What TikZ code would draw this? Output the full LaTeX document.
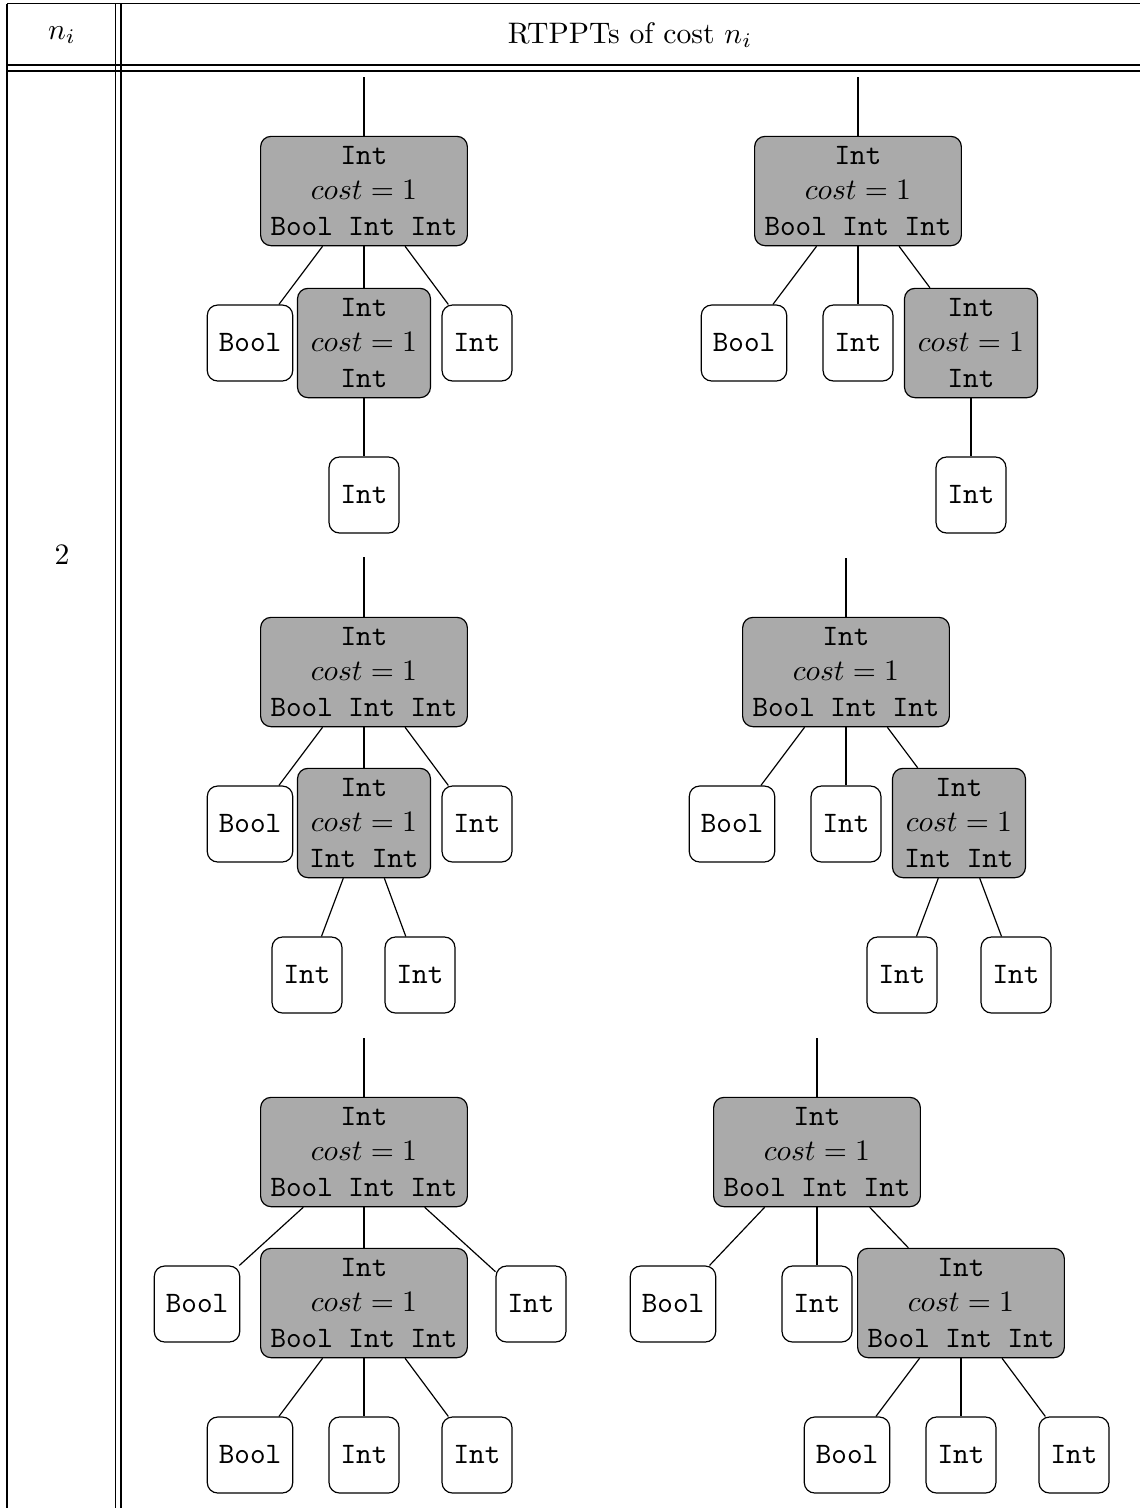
\documentclass[tikz,border=0pt]{standalone}
\definecolor{nodegray}{RGB}{170,170,170}
\begin{document}
\begin{tikzpicture}[x=0.337pt,y=-0.337pt,
  typebox/.style={draw, rounded corners=3.5pt, font=\ttfamily, inner xsep=3.9pt, minimum height=25.6pt},
  rulebox/.style={draw, fill=nodegray, rounded corners=3.5pt, font=\ttfamily, align=center},
  narrowrule/.style={rulebox, minimum width=44.8pt},
  rule/.style={line width=0.4pt}]
\useasboundingbox (0,0) rectangle (1140,1508);

% table rules
\draw[rule] (7,3.5) -- (1140,3.5);
\draw[rule] (7,65) -- (1140,65);
\draw[rule] (7,71) -- (1140,71);
\draw[rule] (7,3.5) -- (7,1508);
\draw[rule] (115.5,3.5) -- (115.5,1508);
\draw[rule] (121,3.5) -- (121,1508);

% header and row label
\node (hn) at (62,35) {$n_i$};
\node (hr) at (630,35) {RTPPTs of cost $n_i$};
\node (two) at (62,555) {2};

% tree A
\coordinate (a0) at (364,77);
\node[rulebox] (a) at (364,191) {Int\\$cost=1$\\Bool Int Int};
\node[typebox] (a1) at (250,343) {Bool};
\node[narrowrule] (a2) at (364,343) {Int\\$cost=1$\\Int};
\node[typebox] (a3) at (477,343) {Int};
\node[typebox] (a21) at (364,495) {Int};
\draw (a0) -- (a);
\draw (a) -- (a1);
\draw (a) -- (a2);
\draw (a) -- (a3);
\draw (a2) -- (a21);

% tree B
\coordinate (b0) at (858,77);
\node[rulebox] (b) at (858,191) {Int\\$cost=1$\\Bool Int Int};
\node[typebox] (b1) at (744,343) {Bool};
\node[typebox] (b2) at (858,343) {Int};
\node[narrowrule] (b3) at (971,343) {Int\\$cost=1$\\Int};
\node[typebox] (b31) at (971,495) {Int};
\draw (b0) -- (b);
\draw (b) -- (b1);
\draw (b) -- (b2);
\draw (b) -- (b3);
\draw (b3) -- (b31);

% tree C
\coordinate (c0) at (364,557);
\node[rulebox] (c) at (364,672) {Int\\$cost=1$\\Bool Int Int};
\node[typebox] (c1) at (250,824) {Bool};
\node[narrowrule] (c2) at (364,823) {Int\\$cost=1$\\Int Int};
\node[typebox] (c3) at (477,824) {Int};
\node[typebox] (c21) at (307,975) {Int};
\node[typebox] (c22) at (420,975) {Int};
\draw (c0) -- (c);
\draw (c) -- (c1);
\draw (c) -- (c2);
\draw (c) -- (c3);
\draw (c2) -- (c21);
\draw (c2) -- (c22);

% tree D
\coordinate (d0) at (846,558);
\node[rulebox] (d) at (846,672) {Int\\$cost=1$\\Bool Int Int};
\node[typebox] (d1) at (732,824) {Bool};
\node[typebox] (d2) at (846,824) {Int};
\node[narrowrule] (d3) at (959,823) {Int\\$cost=1$\\Int Int};
\node[typebox] (d31) at (902,975) {Int};
\node[typebox] (d32) at (1016,975) {Int};
\draw (d0) -- (d);
\draw (d) -- (d1);
\draw (d) -- (d2);
\draw (d) -- (d3);
\draw (d3) -- (d31);
\draw (d3) -- (d32);

% tree E
\coordinate (e0) at (364,1038);
\node[rulebox] (e) at (364,1152) {Int\\$cost=1$\\Bool Int Int};
\node[typebox] (e1) at (197,1304) {Bool};
\node[rulebox] (e2) at (364,1303) {Int\\$cost=1$\\Bool Int Int};
\node[typebox] (e3) at (531,1304) {Int};
\node[typebox] (e21) at (250,1455) {Bool};
\node[typebox] (e22) at (364,1455) {Int};
\node[typebox] (e23) at (477,1455) {Int};
\draw (e0) -- (e);
\draw (e) -- (e1);
\draw (e) -- (e2);
\draw (e) -- (e3);
\draw (e2) -- (e21);
\draw (e2) -- (e22);
\draw (e2) -- (e23);

% tree F
\coordinate (f0) at (817,1038);
\node[rulebox] (f) at (817,1152) {Int\\$cost=1$\\Bool Int Int};
\node[typebox] (f1) at (673,1304) {Bool};
\node[typebox] (f2) at (817,1304) {Int};
\node[rulebox] (f3) at (961,1303) {Int\\$cost=1$\\Bool Int Int};
\node[typebox] (f31) at (847,1455) {Bool};
\node[typebox] (f32) at (961,1455) {Int};
\node[typebox] (f33) at (1074,1455) {Int};
\draw (f0) -- (f);
\draw (f) -- (f1);
\draw (f) -- (f2);
\draw (f) -- (f3);
\draw (f3) -- (f31);
\draw (f3) -- (f32);
\draw (f3) -- (f33);
\end{tikzpicture}
\end{document}
